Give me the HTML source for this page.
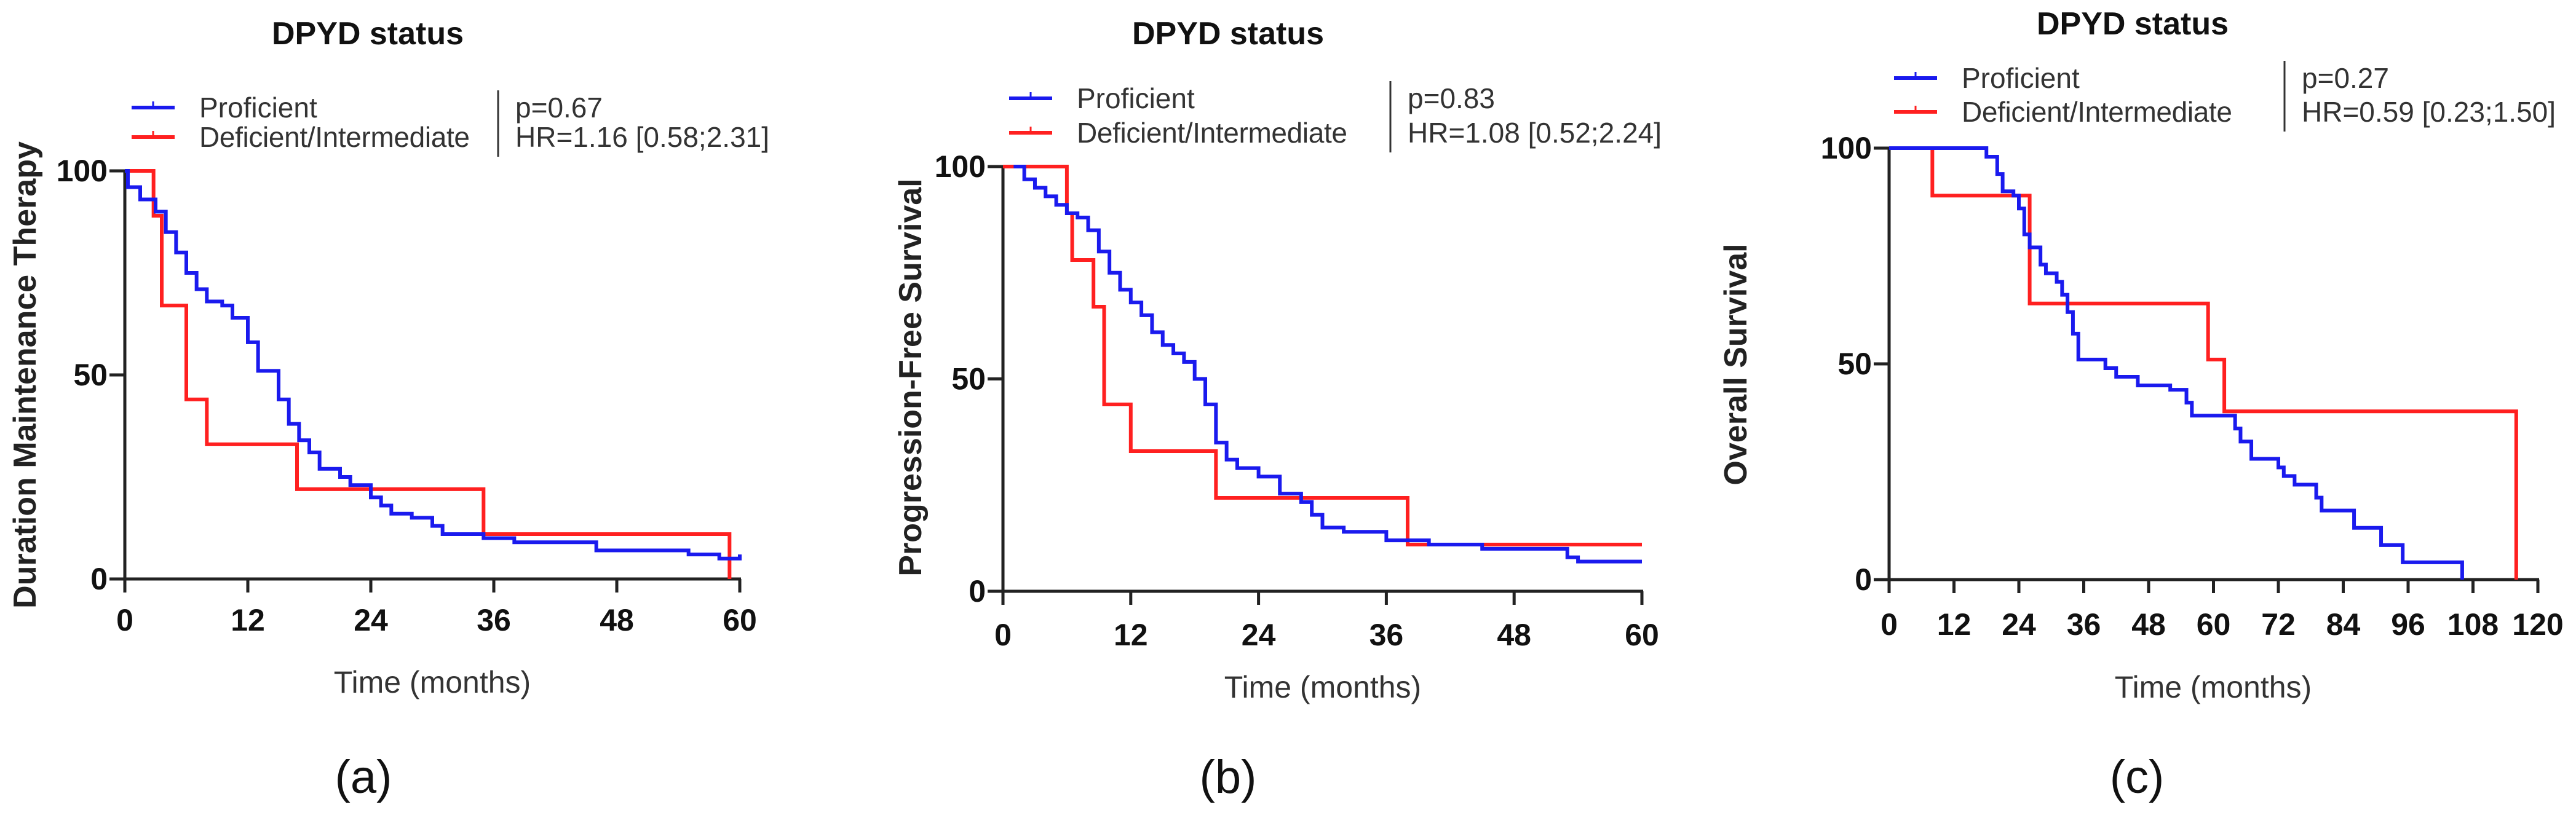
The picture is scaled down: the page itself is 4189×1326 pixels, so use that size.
<!DOCTYPE html>
<html><head><meta charset="utf-8"><style>
html,body{margin:0;padding:0;background:#fff;}
svg{display:block;}
text{font-family:"Liberation Sans",Arial,sans-serif;}
</style></head><body>
<svg id="fig" width="4189" height="1326" viewBox="0 0 4189 1326" xmlns="http://www.w3.org/2000/svg"></svg>
<script>
// Panel (a) data: Duration Maintenance Therapy
const aBlueT = [0,0.3,1.5,3,4,5,6,7,8,9.5,10.5,12,13,14,15,16,17,18,19,21,22,24,25,26,28,30,31,35,38,45,46,55,58,60];
const aBlueS = [100,96,93,90,85,80,75,71,68,67,64,58,51,51,44,38,34,31,27,25,23,20,18,16,15,13,11,10,9,9,7,6,5,6];
const aRedT = [0,2.8,3.6,6,8,16.8,35,59];
const aRedS = [100,89,67,44,33,22,11,0];
// Panel (b) data: Progression-Free Survival
const bBlueT = [1,2,3,4,5,6,7,8,9,10,11,12,13,14,15,16,17,18,19,20,21,22,24,26,28,29,30,32,36,40,45,53,54,60];
const bBlueS = [100,97,95,93,91,89,88,85,80,75,71,68,65,61,58,56,54,50,44,35,31,29,27,23,21,18,15,14,12,11,10,8,7,7];
const bRedT = [0,6,6.5,8.5,9.5,12,20,38,60];
const bRedS = [100,89,78,67,44,33,22,11,11];
// Panel (c) data: Overall Survival
const cBlueT = [0,18,20,21,23,24,25,26,28,29,31,32,33,34,35,38,40,42,46,52,55,56,63,64,65,67,72,73,75,79,80,86,91,95,106];
const cBlueS = [100,98,94,90,89,86,80,77,73,71,69,66,62,57,51,51,49,47,45,44,41,38,38,35,32,28,26,24,22,19,16,12,8,4,0];
const cRedT = [0,8,26,59,62,116];
const cRedS = [100,89,64,51,39,0];
const xTicksA = [0,12,24,36,48,60];
const xTicksC = [0,12,24,36,48,60,72,84,96,108,120];
const yTicks = [0,50,100];

const NS = "http://www.w3.org/2000/svg";
const svg = document.getElementById('fig');
function el(tag, attrs, parent){
  const e = document.createElementNS(NS, tag);
  for (const k in attrs) e.setAttribute(k, attrs[k]);
  (parent||svg).appendChild(e);
  return e;
}
function txt(s, attrs, parent){ const t = el('text', attrs, parent); t.textContent = s; return t; }

function panel(cfg){
  const g = el('g', {});
  
  
  const X = v => cfg.x0 + (v - 0) / cfg.xmax * (cfg.x1 - cfg.x0);
  const Y = v => cfg.y0 + (100 - v) / 100 * (cfg.yz - cfg.y0);
  // title
  const tt = txt('DPYD status', {x:cfg.tx, y:cfg.ty, 'font-size':52, 'font-weight':'bold', 'text-anchor':'middle', fill:'#111'}, g);
  
  
  // legend
  const lg = el('g', {}, g);
  
  
  const rows = [['Proficient','#1a1aee',cfg.ly1],['Deficient/Intermediate','#ff2020',cfg.ly2]];
  rows.forEach((r,i)=>{
    const e = el('g', {}, lg);
    
    
    el('line', {x1:cfg.lx, x2:cfg.lx+70, y1:r[2], y2:r[2], stroke:r[1], 'stroke-width':6}, e);
    el('line', {x1:cfg.lx+35, x2:cfg.lx+35, y1:r[2]-10, y2:r[2], stroke:r[1], 'stroke-width':3}, e);
    const t = txt(r[0], {x:cfg.lx+110, y:r[2]+16, 'font-size':46, fill:'#333'}, e);
    if (i===1) t.setAttribute('textLength', 440);
  });
  el('line', {x1:cfg.sx, x2:cfg.sx, y1:cfg.ly1-28, y2:cfg.ly2+32, stroke:'#333', 'stroke-width':3}, lg);
  const p1 = txt(cfg.p, {x:cfg.sx+28, y:cfg.ly1+16, 'font-size':46, fill:'#333'}, lg);
  
  
  const p2 = txt(cfg.hr, {x:cfg.sx+28, y:cfg.ly2+16, 'font-size':46, fill:'#333'}, lg);
  
  
  // axes
  const ax = el('g', {stroke:'#222', 'stroke-width':5}, g);
  
  
  el('line', {x1:cfg.x0, x2:cfg.x0, y1:Y(100)-2, y2:cfg.yz+22}, ax);
  el('line', {x1:cfg.x0-25, x2:cfg.x1+2, y1:cfg.yz, y2:cfg.yz}, ax);
  cfg.xt.forEach(v=>{
    el('line', {x1:X(v), x2:X(v), y1:cfg.yz, y2:cfg.yz+22}, ax);
    const t = txt(String(v), {x:X(v), y:cfg.tly, 'font-size':50, 'font-weight':'bold', 'text-anchor':'middle', fill:'#111', stroke:'none'}, g);
    
    
  });
  yTicks.forEach(v=>{
    el('line', {x1:cfg.x0-25, x2:cfg.x0, y1:Y(v), y2:Y(v)}, ax);
    const t = txt(String(v), {x:cfg.x0-28, y:Y(v)+17, 'font-size':50, 'font-weight':'bold', 'text-anchor':'end', fill:'#111', stroke:'none'}, g);
    
    
  });
  const xt = txt('Time (months)', {x:cfg.xtx, y:cfg.xty, 'font-size':50, 'text-anchor':'middle', fill:'#333'}, g);
  
  
  const yt = txt(cfg.ytitle, {x:0, y:0, 'font-size':52, 'font-weight':'bold', 'text-anchor':'middle', fill:'#222', transform:`translate(${cfg.ytx},${cfg.yty}) rotate(-90)`}, g);
  
  
  const pl = txt(cfg.label, {x:cfg.plx, y:1290, 'font-size':76, 'text-anchor':'middle', fill:'#111'}, g);
  
  
  // curves
  function step(T, S, color, name){
    let d = `M${X(T[0])},${Y(S[0])}`;
    for (let i=1;i<T.length;i++){ d += ` H${X(T[i])} V${Y(S[i])}`; }
    const p = el('path', {d:d, fill:'none', stroke:color, 'stroke-width':6, 'stroke-linejoin':'miter'}, g);
    
    
  }
  step(cfg.rt, cfg.rs, '#ff2020', 'curve-deficient');
  step(cfg.bt, cfg.bs, '#1a1aee', 'curve-proficient');
}

panel({name:'panel-a', x0:203, x1:1203, xmax:60, y0:278, yz:942, tx:598, ty:72, lx:214, ly1:175, ly2:223, sx:810,
  p:'p=0.67', hr:'HR=1.16 [0.58;2.31]', xt:xTicksA, tly:1026, xtx:703, xty:1127, ytitle:'Duration Maintenance Therapy', ytx:58, yty:610,
  label:'(a)', plx:591, bt:aBlueT, bs:aBlueS, rt:aRedT, rs:aRedS});
panel({name:'panel-b', x0:1631, x1:2670, xmax:60, y0:271, yz:962, tx:1997, ty:72, lx:1641, ly1:160, ly2:216, sx:2261,
  p:'p=0.83', hr:'HR=1.08 [0.52;2.24]', xt:xTicksA, tly:1050, xtx:2151, xty:1135, ytitle:'Progression-Free Survival', ytx:1498, yty:614,
  label:'(b)', plx:1997, bt:bBlueT, bs:bBlueS, rt:bRedT, rs:bRedS});
panel({name:'panel-c', x0:3072, x1:4127, xmax:120, y0:241, yz:943, tx:3468, ty:56, lx:3080, ly1:127, ly2:182, sx:3715,
  p:'p=0.27', hr:'HR=0.59 [0.23;1.50]', xt:xTicksC, tly:1033, xtx:3599, xty:1135, ytitle:'Overall Survival', ytx:2840, yty:593,
  label:'(c)', plx:3475, bt:cBlueT, bs:cBlueS, rt:cRedT, rs:cRedS});
</script>
</body></html>
